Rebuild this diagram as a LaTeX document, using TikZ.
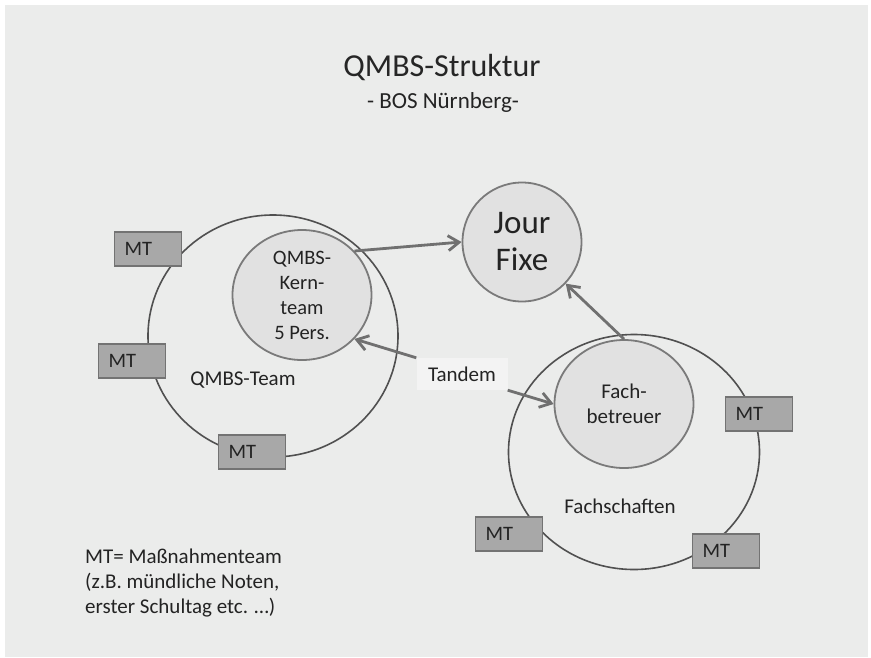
\documentclass[tikz,border=0pt]{standalone}
\usepackage{fontspec}
\setmainfont{Carlito}
\usetikzlibrary{arrows.meta, shapes.geometric}

\definecolor{bggray}{RGB}{235,236,235}
\definecolor{ringgray}{RGB}{80,80,80}
\definecolor{innerfill}{RGB}{225,225,225}
\definecolor{innerline}{RGB}{122,122,122}
\definecolor{mtfill}{RGB}{168,168,168}
\definecolor{mtline}{RGB}{115,115,115}
\definecolor{arrowgray}{RGB}{112,112,112}
\definecolor{tandemfill}{RGB}{243,243,243}
\definecolor{textgray}{RGB}{35,35,35}

\tikzset{
  ring/.style={ellipse, draw=ringgray, line width=1.6pt, inner sep=0pt},
  inner/.style={ellipse, draw=innerline, fill=innerfill, line width=1.8pt, inner sep=0pt,
    align=center, text=textgray, font=\fontsize{20.5}{25}\selectfont},
  mtbox/.style={rectangle, draw=mtline, fill=mtfill, line width=1.2pt, minimum height=34pt,
    text width=47pt, inner xsep=10pt, inner ysep=0pt, align=left, text=textgray,
    font=\fontsize{20.5}{24}\selectfont},
  label/.style={text=textgray, font=\fontsize{21}{25}\selectfont},
  flow/.style={draw=arrowgray, line width=2.8pt, -{Straight Barb[length=11pt,width=15pt]}}
}

\begin{document}
\begin{tikzpicture}[x=1pt, y=-1pt]
  % Background
  \useasboundingbox (0,0) rectangle (871,657);
  \fill[bggray] (5,5) rectangle (868,657);

  % Title
  \node[text=black!85, font=\fontsize{32}{38}\selectfont] (title) at (442,68) {QMBS-Struktur};
  \node[text=textgray, font=\fontsize{23}{26}\selectfont] (subtitle) at (443,102) {- BOS Nürnberg-};

  % Outer rings
  \node[ring, minimum width=250pt, minimum height=242pt] (qmbsring) at (273,336) {};
  \node[ring, minimum width=251pt, minimum height=235pt] (fachring) at (634,452) {};
  \node[label] (qmbsteam) at (243,380) {QMBS-Team};
  \node[label] (fachschaften) at (620,506) {Fachschaften};

  % Inner circles
  \node[inner, minimum width=139pt, minimum height=130pt] (kern) at (302,295) {QMBS-\\Kern-\\team\\5 Pers.};
  \node[inner, minimum width=139pt, minimum height=128pt, font=\fontsize{21}{25}\selectfont] (fach) at (624,404) {Fach-\\betreuer};
  \node[inner, minimum width=119pt, minimum height=119pt, font=\fontsize{33}{37}\selectfont] (jour) at (522,242) {Jour\\Fixe};

  % MT boxes
  \foreach \n/\x/\y in {a/148/249, b/132/361, c/252/452, d/759/414, e/509/534, f/726/551} {
    \node[mtbox] (mt\n) at (\x,\y) {MT};
  }

  % Tandem
  \node[label, fill=tandemfill, minimum width=91pt, minimum height=32pt, inner sep=0pt] (tandem) at (462,374) {Tandem};

  % Arrows
  \draw[flow] (kern.40) -- (jour.west);
  \draw[flow] (fach.north) -- (jour);
  \draw[flow] (tandem.north west) -- (kern.-40);
  \draw[flow] (tandem.south east) -- (fach.west);

  % Legend
  \node[label, anchor=north west, align=left, inner sep=0pt] (legend) at (85,549)
    {MT= Maßnahmenteam\\(z.B. mündliche Noten,\\erster Schultag etc. …)};
\end{tikzpicture}
\end{document}
